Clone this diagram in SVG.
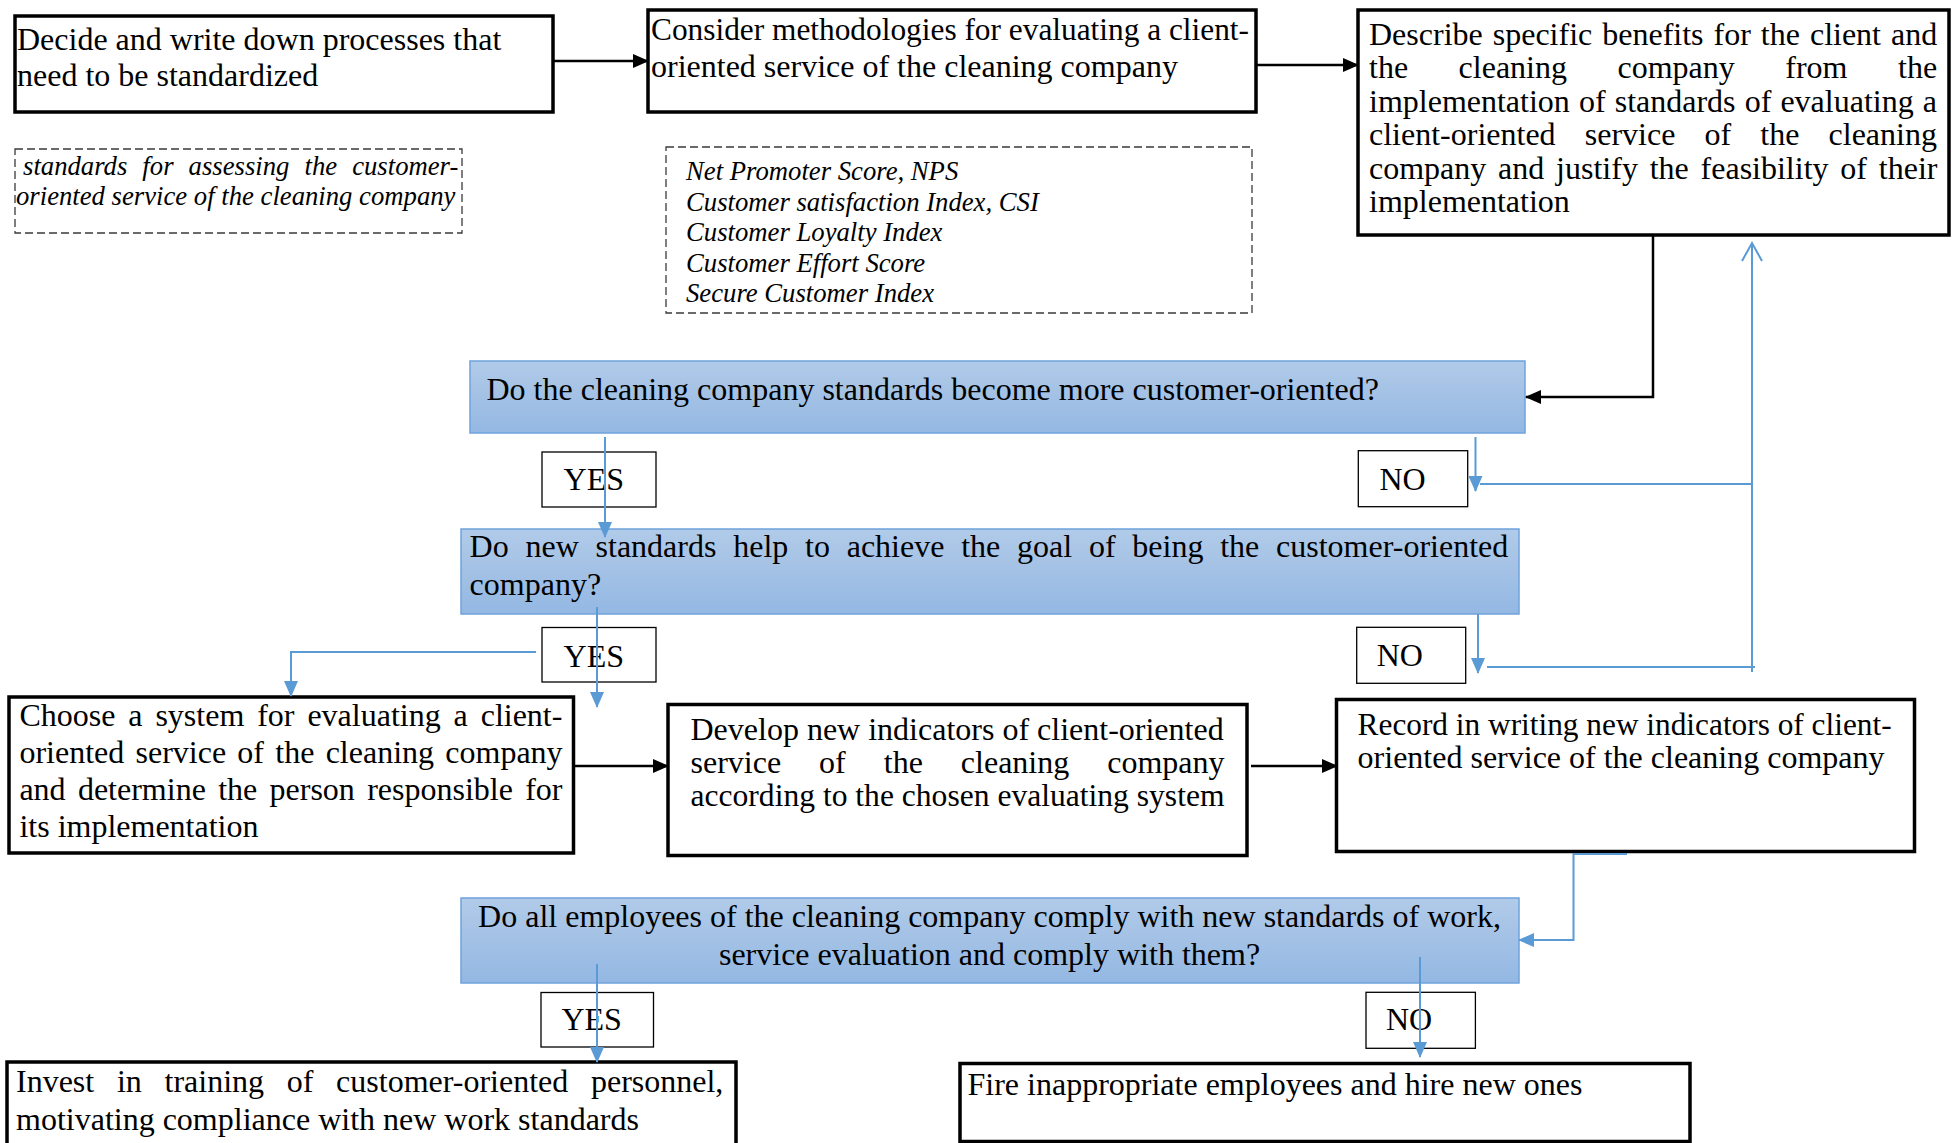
<svg xmlns="http://www.w3.org/2000/svg" width="1959" height="1143" viewBox="0 0 1959 1143">
  <style>
    .box { fill: #ffffff; stroke: #000000; stroke-width: 3.5; }
    .note { fill: none; stroke: #3a3a3a; stroke-width: 1.3; stroke-dasharray: 8 4; }
    .dec { fill: url(#decFill); stroke: #6fa3dc; stroke-width: 1.5; }
    .tag { fill: #ffffff; stroke: #000000; stroke-width: 1.3; }
    text { font-family: "Liberation Serif", "Times New Roman", serif; font-size: 32px; fill: #000000; }
    .it { font-style: italic; font-size: 26.7px; }
    .k { stroke: #000000; stroke-width: 2.5; fill: none; }
    .b { stroke: #5b9bd5; stroke-width: 2; fill: none; }
  </style>
  <defs>
    <linearGradient id="decFill" x1="0" y1="0" x2="0" y2="1">
      <stop offset="0" stop-color="#b1cbe9"/>
      <stop offset="0.5" stop-color="#a3c1e5"/>
      <stop offset="1" stop-color="#93b8e3"/>
    </linearGradient>
    <marker id="arrK" viewBox="0 0 16 14" refX="15" refY="7" markerWidth="16" markerHeight="14" markerUnits="userSpaceOnUse" orient="auto">
      <path d="M0,0 L16,7 L0,14 z" fill="#000000"/>
    </marker>
    <marker id="arrB" viewBox="0 0 16 14" refX="15" refY="7" markerWidth="16" markerHeight="14" markerUnits="userSpaceOnUse" orient="auto">
      <path d="M0,0 L16,7 L0,14 z" fill="#5b9bd5"/>
    </marker>
  </defs>

  <!-- top row -->
  <g id="n-decide">
    <rect class="box" x="15" y="16" width="538" height="96"/>
    <text x="17" y="50">Decide and write down processes that</text>
    <text x="17" y="86">need to be standardized</text>
  </g>
  <g id="n-consider">
    <rect class="box" x="648" y="10" width="608" height="102"/>
    <text x="651" y="40" textLength="598" lengthAdjust="spacingAndGlyphs">Consider methodologies for evaluating a client-</text>
    <text x="651" y="77">oriented service of the cleaning company</text>
  </g>
  <g id="n-benefits">
    <rect class="box" x="1358" y="10" width="591" height="225"/>
    <text x="1369" y="45" style="word-spacing:2px">Describe specific benefits for the client and</text>
    <text x="1369" y="78.4" style="word-spacing:42.5px">the cleaning company from the</text>
    <text x="1369" y="111.8" style="word-spacing:1.1px">implementation of standards of evaluating a</text>
    <text x="1369" y="145.2" style="word-spacing:21.15px">client-oriented service of the cleaning</text>
    <text x="1369" y="178.6" style="word-spacing:3.8px">company and justify the feasibility of their</text>
    <text x="1369" y="212">implementation</text>
  </g>

  <!-- dashed notes -->
  <g id="n-note-standards">
    <rect class="note" x="15" y="149" width="447" height="84"/>
    <text class="it" x="23" y="175" style="word-spacing:8.4px">standards for assessing the customer-</text>
    <text class="it" x="16" y="205">oriented service of the cleaning company</text>
  </g>
  <g id="n-note-methods">
    <rect class="note" x="666" y="147" width="586" height="166"/>
    <text class="it" x="686" y="180">Net Promoter Score, NPS</text>
    <text class="it" x="686" y="210.5">Customer satisfaction Index, CSI</text>
    <text class="it" x="686" y="241">Customer Loyalty Index</text>
    <text class="it" x="686" y="271.5">Customer Effort Score</text>
    <text class="it" x="686" y="302">Secure Customer Index</text>
  </g>

  <!-- decisions -->
  <g id="n-q1">
    <rect class="dec" x="470" y="361" width="1055" height="72"/>
    <text x="486.5" y="400">Do the cleaning company standards become more customer-oriented?</text>
  </g>
  <g id="n-q2">
    <rect class="dec" x="461" y="529" width="1058" height="85"/>
    <text x="469.6" y="557" style="word-spacing:8.77px">Do new standards help to achieve the goal of being the customer-oriented</text>
    <text x="469.6" y="595">company?</text>
  </g>
  <g id="n-q3">
    <rect class="dec" x="461" y="898" width="1058" height="85"/>
    <text x="989.5" y="927" text-anchor="middle">Do all employees of the cleaning company comply with new standards of work,</text>
    <text x="989.5" y="965" text-anchor="middle">service evaluation and comply with them?</text>
  </g>

  <!-- answer tags -->
  <g id="t-yes1"><rect class="tag" x="542" y="452" width="114" height="55"/><text x="563.6" y="490">YES</text></g>
  <g id="t-no1"><rect class="tag" x="1358.3" y="450.7" width="109.4" height="56"/><text x="1379.5" y="490">NO</text></g>
  <g id="t-yes2"><rect class="tag" x="542" y="627.5" width="114" height="54.5"/><text x="563.6" y="666.5">YES</text></g>
  <g id="t-no2"><rect class="tag" x="1356.7" y="627.3" width="109" height="56"/><text x="1376.7" y="665.5">NO</text></g>
  <g id="t-yes3"><rect class="tag" x="541" y="992.5" width="112.5" height="54.5"/><text x="561.4" y="1030">YES</text></g>
  <g id="t-no3"><rect class="tag" x="1366" y="992.3" width="109.4" height="56"/><text x="1386" y="1030">NO</text></g>

  <!-- middle row -->
  <g id="n-choose">
    <rect class="box" x="9" y="697" width="564.5" height="156"/>
    <text x="19.4" y="726" style="word-spacing:4.9px">Choose a system for evaluating a client-</text>
    <text x="19.4" y="763" style="word-spacing:3.26px">oriented service of the cleaning company</text>
    <text x="19.4" y="800" style="word-spacing:4.3px">and determine the person responsible for</text>
    <text x="19.4" y="837">its implementation</text>
  </g>
  <g id="n-develop">
    <rect class="box" x="668" y="704.5" width="579" height="151"/>
    <text x="690.5" y="740">Develop new indicators of client-oriented</text>
    <text x="690.5" y="773" style="word-spacing:30px">service of the cleaning company</text>
    <text x="690.5" y="806" textLength="534" lengthAdjust="spacingAndGlyphs">according to the chosen evaluating system</text>
  </g>
  <g id="n-record">
    <rect class="box" x="1336.5" y="699.5" width="578" height="152"/>
    <text x="1357.6" y="735" textLength="534" lengthAdjust="spacingAndGlyphs">Record in writing new indicators of client-</text>
    <text x="1357.6" y="768">oriented service of the cleaning company</text>
  </g>

  <!-- bottom row -->
  <g id="n-invest">
    <path class="box" d="M7,1150 V1062 H736 V1150"/>
    <text x="16" y="1092" style="word-spacing:14.7px">Invest in training of customer-oriented personnel,</text>
    <text x="16" y="1130">motivating compliance with new work standards</text>
  </g>
  <g id="n-fire">
    <rect class="box" x="960" y="1063.5" width="730" height="78"/>
    <text x="967.5" y="1095">Fire inappropriate employees and hire new ones</text>
  </g>

  <!-- connectors -->
  <g id="connectors">
    <path class="k" d="M553,61 H648" marker-end="url(#arrK)"/>
    <path class="k" d="M1256,65 H1358" marker-end="url(#arrK)"/>
    <path class="k" d="M1653,235 V397 H1526" marker-end="url(#arrK)"/>
    <path class="k" d="M573.5,766 H668" marker-end="url(#arrK)"/>
    <path class="k" d="M1251,766 H1337" marker-end="url(#arrK)"/>

    <path class="b" d="M605,437 V537" marker-end="url(#arrB)"/>
    <path class="b" d="M1475.5,437 V491" marker-end="url(#arrB)"/>
    <path class="b" d="M1480,484 H1752"/>
    <path class="b" d="M1752,672 V243"/>
    <polyline class="b" points="1742,261 1752,243 1762,261"/>
    <path class="b" d="M597,607 V707" marker-end="url(#arrB)"/>
    <path class="b" d="M536,652 H291 V696" marker-end="url(#arrB)"/>
    <path class="b" d="M1478,614 V673" marker-end="url(#arrB)"/>
    <path class="b" d="M1487,667 H1755"/>
    <path class="b" d="M1627,854 H1573.5 V940 H1519" marker-end="url(#arrB)"/>
    <path class="b" d="M597,964 V1062" marker-end="url(#arrB)"/>
    <path class="b" d="M1420,957 V1057" marker-end="url(#arrB)"/>
  </g>
</svg>
